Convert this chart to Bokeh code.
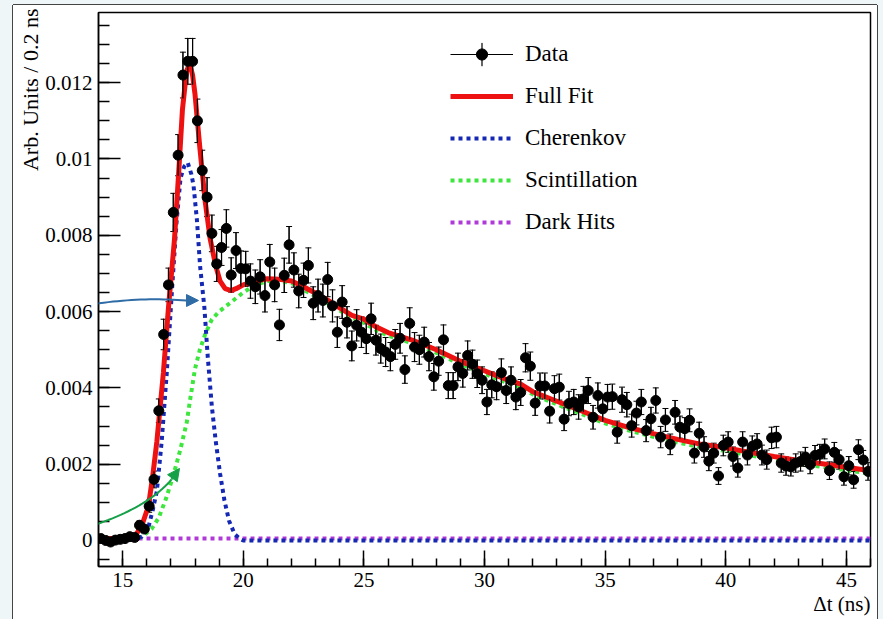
import math
from bokeh.plotting import figure
from bokeh.models import (Range1d, FixedTicker, Whisker, TeeHead, ColumnDataSource, Legend,
                          LegendItem, Title, Arrow, NormalHead, PolyAnnotation, Spacer)
from bokeh.layouts import row, column
from bokeh.embed import file_html
from bokeh.resources import INLINE

FONT = "Liberation Serif"
RED = "#ee1111"
BLUE = "#1428b4"
GREEN = "#3ce63c"
PURPLE = "#b03ad8"
PALE = "#eef6f7"

# ---------------- data ----------------
counts = [
    0.00005, 0.0, -0.00004, 0.00001, 0.00003, 0.00005, 0.0001, 0.00008, 0.0004, 0.0003,
    0.0009, 0.0016, 0.0034, 0.0054, 0.0067, 0.0086, 0.0101, 0.0122, 0.01256, 0.01256,
    0.011, 0.0097, 0.009, 0.00805, 0.00725, 0.00768, 0.00818, 0.00696, 0.0076, 0.00713,
    0.00712, 0.0068, 0.00665, 0.00691, 0.00642, 0.0073, 0.0067, 0.00565, 0.00695, 0.00775,
    0.00709, 0.00654, 0.00682, 0.00721, 0.00622, 0.00642, 0.00629, 0.00684, 0.00615, 0.00546,
    0.00625, 0.00572, 0.0051, 0.00564, 0.00546, 0.00529, 0.00581, 0.00525, 0.00503, 0.00494,
    0.00482, 0.00514, 0.0053, 0.00448, 0.00569, 0.00507, 0.005, 0.0052, 0.00482, 0.00429,
    0.0047, 0.00526, 0.00406, 0.00406, 0.00455, 0.00438, 0.00485, 0.00462, 0.00437, 0.0042,
    0.00363, 0.00408, 0.00403, 0.0044, 0.00393, 0.0042, 0.00376, 0.00388, 0.00479, 0.00457,
    0.0036, 0.00405, 0.00405, 0.00339, 0.00398, 0.00402, 0.00318, 0.00359, 0.00363, 0.0035,
    0.00371, 0.00393, 0.00323, 0.0038, 0.00345, 0.00376, 0.00377, 0.00284, 0.00369, 0.00356,
    0.00301, 0.00334, 0.00363, 0.00288, 0.00319, 0.00367, 0.00271, 0.00316, 0.00252, 0.00336,
    0.00297, 0.00293, 0.00315, 0.00229, 0.00281, 0.00245, 0.00208, 0.00229, 0.00169, 0.00249,
    0.00258, 0.0022, 0.0019, 0.00258, 0.00224, 0.00247, 0.00253, 0.00224, 0.00212, 0.00269,
    0.00271, 0.00203, 0.00195, 0.00193, 0.00203, 0.00207, 0.00219, 0.00199, 0.00223, 0.00226,
    0.0024, 0.00183, 0.00231, 0.00212, 0.00167, 0.00196, 0.00159, 0.00238, 0.00211, 0.00181,
]
errors = [
    0.00004, 0.00003, 0.00003, 0.00003, 0.00003, 0.00004, 0.00005, 0.00005, 0.00011, 0.00009,
    0.00016, 0.00022, 0.00031, 0.0004, 0.00044, 0.0005, 0.00054, 0.0006, 0.0006, 0.0006,
    0.00057, 0.00053, 0.00051, 0.00048, 0.00046, 0.00047, 0.00049, 0.00045, 0.00047, 0.00046,
    0.00046, 0.00045, 0.00044, 0.00045, 0.00043, 0.00046, 0.00044, 0.00041, 0.00045, 0.00048,
    0.00045, 0.00044, 0.00045, 0.00046, 0.00043, 0.00043, 0.00043, 0.00045, 0.00042, 0.0004,
    0.00043, 0.00041, 0.00039, 0.00041, 0.0004, 0.00039, 0.00041, 0.00039, 0.00038, 0.00038,
    0.00037, 0.00039, 0.00039, 0.00036, 0.00041, 0.00038, 0.00038, 0.00039, 0.00037, 0.00035,
    0.00037, 0.00039, 0.00034, 0.00034, 0.00036, 0.00036, 0.00038, 0.00037, 0.00036, 0.00035,
    0.00033, 0.00034, 0.00034, 0.00036, 0.00034, 0.00035, 0.00033, 0.00034, 0.00037, 0.00037,
    0.00032, 0.00034, 0.00034, 0.00031, 0.00034, 0.00034, 0.0003, 0.00032, 0.00033, 0.00032,
    0.00033, 0.00034, 0.00031, 0.00033, 0.00032, 0.00033, 0.00033, 0.00029, 0.00033, 0.00032,
    0.0003, 0.00031, 0.00033, 0.00029, 0.0003, 0.00033, 0.00028, 0.0003, 0.00027, 0.00031,
    0.00029, 0.00029, 0.0003, 0.00026, 0.00029, 0.00027, 0.00025, 0.00026, 0.00022, 0.00027,
    0.00027, 0.00025, 0.00024, 0.00027, 0.00026, 0.00027, 0.00027, 0.00026, 0.00025, 0.00028,
    0.00028, 0.00024, 0.00024, 0.00024, 0.00024, 0.00025, 0.00025, 0.00024, 0.00026, 0.00026,
    0.00026, 0.00023, 0.00026, 0.00025, 0.00022, 0.00024, 0.00022, 0.00026, 0.00025, 0.00023,
]
bin_width = 0.2
dt = [round(14.1 + bin_width * i, 2) for i in range(len(counts))]

fit_x = [14.0, 15.0, 15.5, 15.8, 16.07, 16.25, 16.42, 16.69, 16.9, 17.15,
         17.32, 17.48, 17.65, 17.78, 17.9, 18.0, 18.2, 18.42, 18.63, 18.86,
         19.04, 19.25, 19.5, 19.7, 20.0, 20.5, 21.0, 21.5, 22.0, 22.5,
         23.0, 23.5, 24.0, 24.5, 25.0, 25.5, 26.0, 26.5, 27.0, 27.5,
         28.0, 28.5, 29.0, 29.5, 30.0, 30.5, 31.0, 31.5, 32.0, 33.0,
         34.0, 35.0, 36.0, 37.0, 38.0, 39.0, 40.0, 41.0, 42.0, 43.0, 44.0, 45.0, 46.0]
fit_y = [0.00005, 0.00005, 0.0001, 0.0004, 0.0009, 0.0017, 0.0026, 0.0044, 0.0061, 0.0079,
         0.0096, 0.0113, 0.0123, 0.0125, 0.0122, 0.0117, 0.0103, 0.0089, 0.0079, 0.0072,
         0.0068, 0.0066, 0.00655, 0.0066, 0.0067, 0.0068, 0.00686, 0.00685, 0.0068, 0.00665,
         0.00648, 0.0063, 0.0061, 0.0059, 0.0058, 0.0056, 0.00545, 0.00535, 0.00525, 0.00513,
         0.005, 0.00485, 0.0047, 0.00457, 0.00445, 0.00432, 0.0042, 0.0041, 0.0039, 0.00365,
         0.0034, 0.00315, 0.00296, 0.0028, 0.00265, 0.00252, 0.00243, 0.00231, 0.0022, 0.0021,
         0.00201, 0.00192, 0.00183]

cher_x = [14.0, 15.5, 15.8, 16.07, 16.25, 16.42, 16.62, 16.83, 17.05, 17.23,
          17.4, 17.55, 17.7, 17.85, 17.94, 18.08, 18.21, 18.39, 18.53, 18.7,
          18.86, 19.04, 19.22, 19.41, 19.64, 19.87, 20.0, 46.0]
cher_y = [0.0, 0.00003, 0.0001, 0.00035, 0.0008, 0.0013, 0.0026, 0.0044, 0.0066, 0.0083,
          0.0095, 0.0098, 0.0099, 0.0096, 0.0093, 0.0084, 0.0072, 0.0061, 0.0048, 0.0035,
          0.0026, 0.00175, 0.00105, 0.00052, 0.00017, 0.00004, 0.0, 0.0]

scint_x = [14.0, 15.5, 15.8, 16.0, 16.2, 16.5, 16.8, 17.1, 17.4, 17.66,
           17.8, 18.0, 18.2, 18.42, 18.7, 19.0, 19.5, 20.0, 20.5, 21.0,
           21.5, 22.0, 22.5, 23.0, 23.5, 24.0, 24.5, 25.0, 25.5, 26.0,
           26.5, 27.0, 27.5, 28.0, 28.5, 29.0, 29.5, 30.0, 30.5, 31.0,
           31.5, 32.0, 33.0, 34.0, 35.0, 36.0, 37.0, 38.0, 39.0, 40.0,
           41.0, 42.0, 43.0, 44.0, 45.0, 46.0]
scint_y = [0.0, 0.00002, 0.0001, 0.0002, 0.0003, 0.0006, 0.0011, 0.0017, 0.0024, 0.0031,
           0.0037, 0.0045, 0.005, 0.0054, 0.0058, 0.006, 0.00625, 0.0065, 0.0067, 0.0068,
           0.0068, 0.00675, 0.00657, 0.0064, 0.00622, 0.00603, 0.00584, 0.0057, 0.00552, 0.00537,
           0.00527, 0.00517, 0.00505, 0.00492, 0.00477, 0.00462, 0.0045, 0.00437, 0.00424, 0.00412,
           0.00402, 0.00383, 0.00357, 0.00332, 0.00307, 0.00288, 0.00272, 0.00257, 0.00244, 0.00235,
           0.00223, 0.00212, 0.00202, 0.00193, 0.00184, 0.00175]

dark_x = [14.0, 46.0]
dark_y = [0.00005, 0.00005]

x_major = [15, 20, 25, 30, 35, 40, 45]
x_minor = list(range(14, 47))
y_major = [0, 0.002, 0.004, 0.006, 0.008, 0.01, 0.012]
y_labels = ["0", "0.002", "0.004", "0.006", "0.008", "0.01", "0.012"]
y_minor = [-0.0005, 0.0, 0.0005, 0.001, 0.0015, 0.002, 0.0025, 0.003, 0.0035, 0.004, 0.0045,
           0.005, 0.0055, 0.006, 0.0065, 0.007, 0.0075, 0.008, 0.0085, 0.009, 0.0095, 0.01,
           0.0105, 0.011, 0.0115, 0.012, 0.0125, 0.013, 0.0135]

# ---------------- figure ----------------
p = figure(width=864, height=614, x_range=Range1d(14, 46), y_range=Range1d(-0.000682, 0.01384),
           output_backend="svg", toolbar_location=None,
           min_border_left=85, min_border_right=7, min_border_top=7, min_border_bottom=53,
           background_fill_color="white", border_fill_color="white")
p.grid.visible = False
p.outline_line_color = "black"
p.outline_line_width = 1.5

xa = p.xaxis[0]
xa.ticker = FixedTicker(ticks=x_major, minor_ticks=x_minor)
xa.major_tick_in = 16
xa.major_tick_out = 0
xa.minor_tick_in = 8
xa.minor_tick_out = 0
ya = p.yaxis[0]
ya.ticker = FixedTicker(ticks=y_major, minor_ticks=y_minor)
ya.major_label_overrides = dict(zip(y_major, y_labels))
ya.major_tick_in = 22
ya.major_tick_out = 0
ya.minor_tick_in = 11
ya.minor_tick_out = 0
for ax in (xa, ya):
    ax.axis_line_width = 1.5
    ax.axis_line_color = "black"
    ax.major_tick_line_width = 1.5
    ax.minor_tick_line_width = 1.5
    ax.major_tick_line_color = "black"
    ax.minor_tick_line_color = "black"
    ax.major_label_text_font = FONT
    ax.major_label_text_font_size = "21px"
    ax.major_label_text_color = "black"
    ax.major_label_standoff = 6

p.add_layout(Title(text="Arb. Units / 0.2 ns", align="right", text_font=FONT,
                   text_font_size="22px", text_font_style="normal", text_color="black",
                   standoff=0, offset=-4), "left")
p.add_layout(Title(text="\u0394t (ns)", align="right", text_font=FONT,
                   text_font_size="21px", text_font_style="normal", text_color="black",
                   standoff=0), "below")

# curves
r_dark = p.line(dark_x, dark_y, line_color=PURPLE, line_width=4, line_dash="4 4")
r_scint = p.line(scint_x, scint_y, line_color=GREEN, line_width=4, line_dash="4 4")
r_cher = p.line(cher_x, cher_y, line_color=BLUE, line_width=4, line_dash="4 4")
r_fit = p.line(fit_x, fit_y, line_color=RED, line_width=5)

# data points with error bars
src = ColumnDataSource(dict(
    x=dt, y=counts,
    lo=[c - e for c, e in zip(counts, errors)],
    hi=[c + e for c, e in zip(counts, errors)],
    xl=[x - bin_width / 2 for x in dt],
    xr=[x + bin_width / 2 for x in dt],
    w=[0.002] * len(dt),
    h=[2 * e for e in errors],
))
r_xerr = p.segment(x0="xl", y0="y", x1="xr", y1="y", source=src, line_color="black", line_width=1)
r_yerr = p.ellipse(x="x", y="y", width="w", height="h", source=src, fill_color=None,
                   line_color="black", line_width=1.2)
p.add_layout(Whisker(source=src, base="x", upper="hi", lower="lo", dimension="height",
                     line_color="black", line_width=1,
                     upper_head=TeeHead(size=6, line_color="black", line_width=1),
                     lower_head=TeeHead(size=6, line_color="black", line_width=1)))
r_pts = p.scatter("x", "y", source=src, size=10, color="black")

legend = Legend(items=[
    LegendItem(label="Data", renderers=[r_xerr, r_yerr, r_pts], index=20),
    LegendItem(label="Full Fit", renderers=[r_fit]),
    LegendItem(label="Cherenkov", renderers=[r_cher]),
    LegendItem(label="Scintillation", renderers=[r_scint]),
    LegendItem(label="Dark Hits", renderers=[r_dark]),
], location=(352, 330), glyph_width=63, glyph_height=28, label_height=28, spacing=14,
    padding=0, margin=0, label_standoff=12, border_line_color=None, background_fill_alpha=0,
    label_text_font=FONT, label_text_font_size="23px", label_text_color="black")
p.add_layout(legend)

# ---------------- pointing arrows (annotations) ----------------
def to_data(px, py):
    return 14 + (px - 98) / 24.13, (540 - py) / 38150

def curve(p0, c, p2, n=40):
    xs, ys = [], []
    for i in range(n + 1):
        t = i / n
        px = (1 - t) ** 2 * p0[0] + 2 * (1 - t) * t * c[0] + t * t * p2[0]
        py = (1 - t) ** 2 * p0[1] + 2 * (1 - t) * t * c[1] + t * t * p2[1]
        dx, dy = to_data(px, py)
        xs.append(dx)
        ys.append(dy)
    return xs + xs[::-1], ys + ys[::-1]

for (p0, c, p2, tip, col) in [((0, 328), (95, 293), (186, 300), (198, 300), "#2f6ca6"),
                              ((0, 545), (130, 527), (171, 479), (179, 468), "#16a048")]:
    xs, ys = curve(p0, c, p2)
    p.add_layout(PolyAnnotation(xs=xs, ys=ys, fill_alpha=0, line_color=col, line_alpha=1.0,
                                line_width=2))
    sx, sy = to_data(*p2)
    ex, ey = to_data(*tip)
    p.add_layout(Arrow(x_start=sx, y_start=sy, x_end=ex, y_end=ey, line_color=col, line_width=2,
                       end=NormalHead(size=12, fill_color=col, line_color=col, line_width=1)))

# ---------------- page frame ----------------
def sp(w, h, extra=None):
    st = {"background-color": PALE, "box-sizing": "border-box"}
    if extra:
        st.update(extra)
    return Spacer(width=w, height=h, styles=st)

page = column(
    row(sp(13, 5), sp(864, 5, {"border-bottom": "1px solid #444"}), sp(6, 5), spacing=0),
    row(sp(13, 614, {"border-right": "1px solid #444"}), p,
        sp(6, 614, {"border-left": "1px solid #444"}), spacing=0),
    spacing=0)

open("out.html", "w").write(file_html(page, INLINE))
